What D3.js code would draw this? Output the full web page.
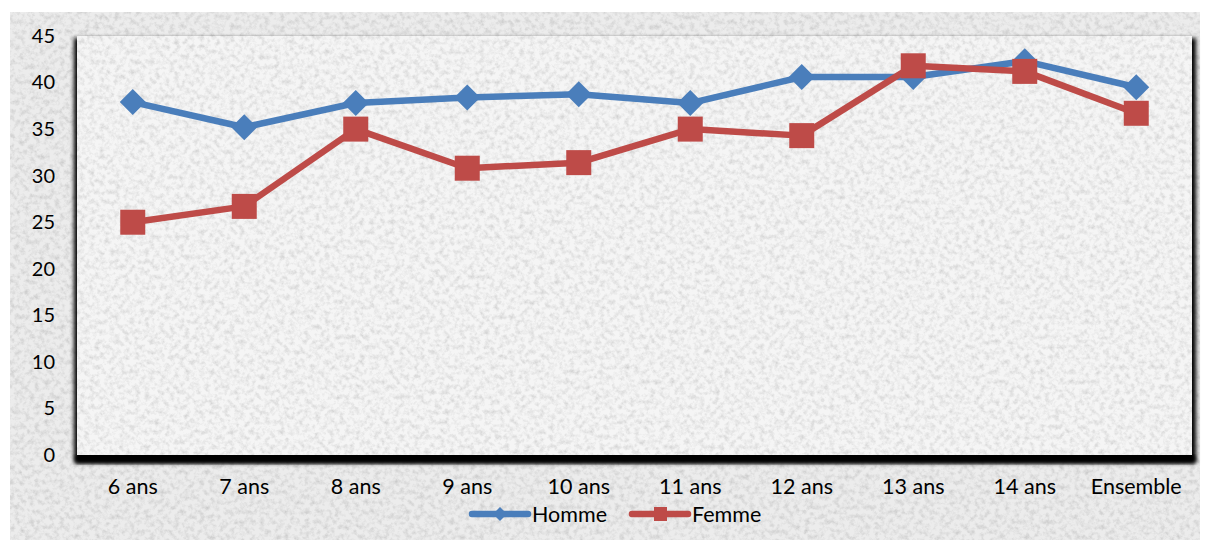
<!DOCTYPE html>
<html><head><meta charset="utf-8">
<script src="https://cdn.jsdelivr.net/npm/d3@7"></script>
<style>body{margin:0;background:#fff;}svg{display:block;}</style>
</head><body>
<svg id="c" width="1208" height="542"></svg>
<script>
const categories = ["6 ans","7 ans","8 ans","9 ans","10 ans","11 ans","12 ans","13 ans","14 ans","Ensemble"];
const homme = [37.9,35.2,37.8,38.4,38.75,37.8,40.6,40.6,42.3,39.5];
const femme = [25.0,26.7,35.0,30.8,31.4,35.0,34.3,41.8,41.2,36.7];
const yTicks = [0,5,10,15,20,25,30,35,40,45];
const seriesNames = ["Homme","Femme"];
const colors = ["#4A7EBB","#BE4B48"];

const svg = d3.select("#c");
const font = "Lato, 'Open Sans', sans-serif";
const defs = svg.append("defs");

// granite-like texture
const tex = defs.append("filter").attr("id","tex").attr("x",0).attr("y",0).attr("width","100%").attr("height","100%");
tex.append("feTurbulence").attr("type","fractalNoise").attr("baseFrequency","0.2").attr("numOctaves",4).attr("seed",7).attr("result","n");
tex.append("feColorMatrix").attr("in","n").attr("type","matrix")
  .attr("values","0 0 0 0 0  0 0 0 0 0  0 0 0 0 0  -1.6 0 0 0 0.95").attr("result","a");
tex.append("feComponentTransfer").attr("in","a").attr("result","a2")
  .append("feFuncA").attr("type","linear").attr("slope",0.35).attr("intercept",0);
tex.append("feComposite").attr("in","a2").attr("in2","SourceGraphic").attr("operator","in").attr("result","m");
tex.append("feMerge").call(m=>{m.append("feMergeNode").attr("in","SourceGraphic");m.append("feMergeNode").attr("in","m");});

const sh = defs.append("filter").attr("id","sh").attr("x","-5%").attr("y","-5%").attr("width","110%").attr("height","120%");
sh.append("feGaussianBlur").attr("in","SourceAlpha").attr("stdDeviation",2);

// outer panel
svg.append("rect").attr("x",10).attr("y",12).attr("width",1190).attr("height",528).attr("fill","#ececec").attr("filter","url(#tex)");

const m = {left:77, right:1192, top:36, bottom:455};
const x = d3.scaleBand().domain(categories).range([m.left,m.right]);
const y = d3.scaleLinear().domain([0,45]).range([m.bottom,m.top]);

// plot area shadow + fill
svg.append("rect").attr("x",m.left-3).attr("y",m.top+2).attr("width",m.right-m.left+7).attr("height",m.bottom-m.top+6)
  .attr("fill","#666").attr("filter","url(#sh)");
svg.append("rect").attr("x",m.left-1).attr("y",m.bottom).attr("width",m.right-m.left+4).attr("height",8)
  .attr("fill","#000").attr("filter","url(#sh)");
svg.append("rect").attr("x",m.left).attr("y",m.top).attr("width",m.right-m.left).attr("height",m.bottom-m.top)
  .attr("fill","#f5f5f5").attr("filter","url(#tex)");

// y axis
const ya = svg.append("g").attr("transform",`translate(${m.left-22},0)`)
  .call(d3.axisLeft(y).tickValues(yTicks).tickSize(0).tickPadding(0));
ya.select(".domain").remove();
ya.selectAll("text").attr("font-family",font).attr("font-size",20).attr("fill","#000").attr("text-anchor","end");

// x axis
const xa = svg.append("g").attr("transform",`translate(0,${m.bottom+14})`)
  .call(d3.axisBottom(x).tickSize(0).tickPadding(10));
xa.select(".domain").remove();
xa.selectAll("text").attr("font-family",font).attr("font-size",21.5).attr("fill","#000");

const data = [homme, femme];
const line = d3.line().x((d,i)=>x(categories[i])+x.bandwidth()/2).y(d=>y(d));

function marker(g, kind, cx, cy, col){
  if(kind===0){
    const r=13;
    g.append("path").attr("d",`M${cx},${cy-r}L${cx+r},${cy}L${cx},${cy+r}L${cx-r},${cy}Z`).attr("fill",col);
  } else {
    const s=12.5;
    g.append("rect").attr("x",cx-s).attr("y",cy-s).attr("width",2*s).attr("height",2*s).attr("fill",col);
  }
}

data.forEach((vals,k)=>{
  const g = svg.append("g");
  g.append("path").datum(vals).attr("d",line).attr("fill","none").attr("stroke",colors[k])
    .attr("stroke-width",6.5).attr("stroke-linejoin","round").attr("stroke-linecap","round");
  vals.forEach((v,i)=>marker(g,k,x(categories[i])+x.bandwidth()/2,y(v),colors[k]));
});

// legend
const legX = [472, 632];
seriesNames.forEach((n,k)=>{
  const g = svg.append("g");
  const ly = 514;
  g.append("line").attr("x1",legX[k]).attr("x2",legX[k]+56).attr("y1",ly).attr("y2",ly)
    .attr("stroke",colors[k]).attr("stroke-width",6.5).attr("stroke-linecap","round");
  if(k===0){
    const r=7, cx=legX[k]+28;
    g.append("path").attr("d",`M${cx},${ly-r}L${cx+r},${ly}L${cx},${ly+r}L${cx-r},${ly}Z`).attr("fill",colors[k]);
  } else {
    g.append("rect").attr("x",legX[k]+22).attr("y",ly-7).attr("width",13).attr("height",14).attr("fill",colors[k]);
  }
  g.append("text").attr("x",legX[k]+60).attr("y",ly).attr("dy","0.35em").attr("font-family",font)
    .attr("font-size",21.5).attr("fill","#000").text(n);
});
</script>
</body></html>
